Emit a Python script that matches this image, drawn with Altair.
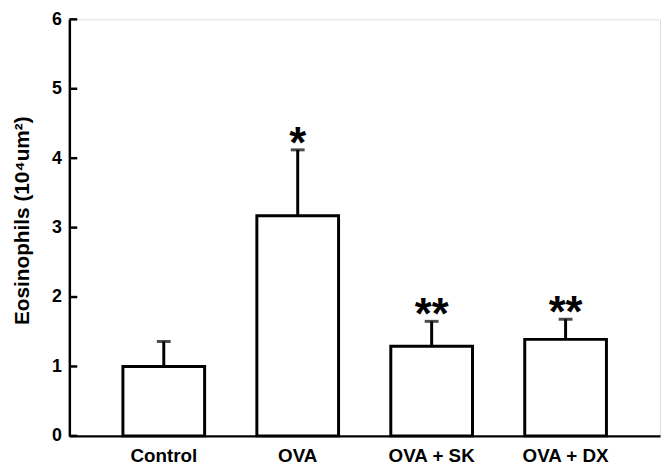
import altair as alt
import pandas as pd

groups = ["Control", "OVA", "OVA + SK", "OVA + DX"]
means = [1.00, 3.17, 1.29, 1.39]
errors = [0.36, 0.95, 0.36, 0.29]
stars = ["", "*", "**", "**"]
y_ticks = [0, 1, 2, 3, 4, 5, 6]

df = pd.DataFrame({
    "group": groups,
    "mean": means,
    "err": errors,
    "star": stars,
})
df["top"] = df["mean"] + df["err"]
ticks_df = pd.DataFrame({"t": y_ticks})

FONT = "Liberation Sans"

xscale = alt.Scale(domain=groups, paddingInner=0.39, paddingOuter=0.4)
yscale = alt.Scale(domain=[0, 6], nice=False)

x_enc = alt.X("group:N", scale=xscale, sort=groups,
              axis=alt.Axis(title=None, labelAngle=0, ticks=False, labelPadding=11,
                            labelFont=FONT, labelFontSize=19, labelFontWeight="bold",
                            labelColor="black", domainColor="black", domainWidth=2.5))

bars = alt.Chart(df).mark_bar(fill="white", stroke="black", strokeWidth=3).encode(
    x=x_enc,
    y=alt.Y("mean:Q", scale=yscale,
            axis=alt.Axis(title="Eosinophils (10⁴um²)", values=y_ticks, format="d",
                          ticks=False, grid=False, labelPadding=8, labelFont=FONT,
                          labelFontSize=18, labelFontWeight="bold", labelColor="black",
                          domainColor="black", domainWidth=2.5,
                          titleFont=FONT, titleFontSize=21, titleFontWeight="bold",
                          titleColor="black", titleAngle=270, titleX=-47, titleY=203,
                          titleBaseline="middle", titleAlign="center")),
)

err_line = alt.Chart(df).mark_rule(color="black", strokeWidth=3).encode(
    x=alt.X("group:N", scale=xscale, sort=groups),
    y=alt.Y("mean:Q", scale=yscale),
    y2="top:Q",
)

err_cap = alt.Chart(df).mark_tick(color="black", orient="horizontal", size=14, thickness=3).encode(
    x=alt.X("group:N", scale=xscale, sort=groups),
    y=alt.Y("top:Q", scale=yscale),
)

star_text = alt.Chart(df).mark_text(font=FONT, fontSize=44, fontWeight="bold", color="black",
                                    baseline="alphabetic", dy=8).encode(
    x=alt.X("group:N", scale=xscale, sort=groups),
    y=alt.Y("top:Q", scale=yscale),
    text="star:N",
)

yticks = alt.Chart(ticks_df).mark_rule(color="black", strokeWidth=2.5).encode(
    y=alt.Y("t:Q", scale=yscale),
    x=alt.value(0),
    x2=alt.value(8),
)

chart = alt.layer(bars, err_line, err_cap, star_text, yticks).properties(
    width=597,
    height=421,
    autosize=alt.AutoSizeParams(type="none"),
    padding={"left": 62, "top": 9, "right": 2, "bottom": 30},
).configure_view(stroke=None).configure(background="white")

chart.save("out.html", embed_options={"renderer": "svg", "actions": False})
